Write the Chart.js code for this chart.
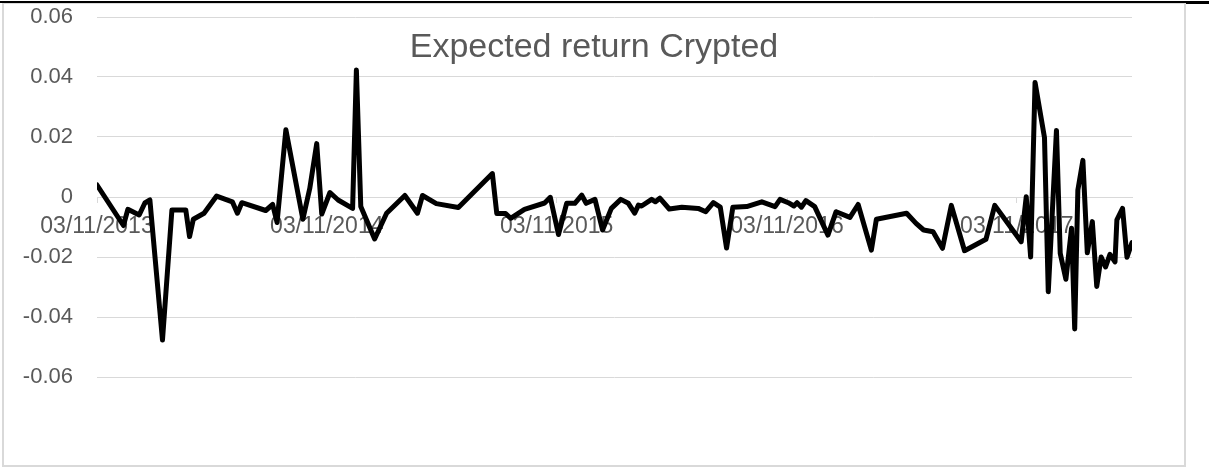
<!DOCTYPE html>
<html>
<head>
<meta charset="utf-8">
<script src="https://cdn.jsdelivr.net/npm/chart.js@4.4.1/dist/chart.umd.min.js"></script>
<style>
  html, body { margin: 0; padding: 0; background: #fff; }
  body { width: 1209px; height: 468px; position: relative; overflow: hidden; }
  #topline { position: absolute; left: 0; top: 1px; width: 1209px; height: 2px; background: #000; }
  #topright { position: absolute; left: 1186px; top: 1px; width: 23px; height: 3px; background: #000; }
  #frame { position: absolute; left: 2px; top: 2px; width: 1184px; height: 465px; box-sizing: border-box; border: 2px solid #d9d9d9; }
  #myChart { position: absolute; left: 0; top: 0; }
</style>
</head>
<body>
<div id="frame"><canvas id="myChart" width="1180" height="461"></canvas></div>
<div id="topline"></div>
<div id="topright"></div>
<script>
// days counted from 03/11/2013
const days = [
  0, 42, 49, 67, 76, 84, 104, 119, 141, 147,
  153, 170, 190, 215, 223, 230, 268, 279, 286, 300,
  327, 338, 349, 357, 370, 383, 406, 412, 419, 441,
  460, 489, 509, 517, 539, 574, 628, 635, 649, 657,
  679, 711, 720, 733, 746, 759, 770, 777, 791, 803,
  817, 832, 844, 854, 860, 865, 881, 887, 894, 909,
  929, 955, 967, 979, 990, 1000, 1010, 1032, 1056, 1077,
  1085, 1098, 1107, 1112, 1119, 1126, 1140, 1161, 1174, 1196,
  1209, 1230, 1238, 1286, 1301, 1313, 1328, 1343, 1357, 1378,
  1412, 1426, 1468, 1476, 1483, 1490, 1505, 1511, 1524, 1530,
  1539, 1548, 1553, 1558, 1566, 1573, 1581, 1588, 1595, 1602,
  1609, 1617, 1620, 1629, 1636, 1644
];

const expectedReturn = [
  0.004, -0.0095, -0.0041, -0.006, -0.002, -0.001, -0.0477, -0.0043, -0.0043, -0.0132,
  -0.0074, -0.0054, 0.0003, -0.0016, -0.0054, -0.0019, -0.0045, -0.0025, -0.0085, 0.0224,
  -0.0074, 0.0029, 0.0178, -0.0057, 0.0015, -0.001, -0.0038, 0.0423, -0.0032, -0.014,
  -0.0054, 0.0005, -0.0054, 0.0005, -0.0022, -0.0035, 0.0078, -0.0055, -0.0055, -0.0071,
  -0.0041, -0.002, -0.0001, -0.0125, -0.0021, -0.0021, 0.0006, -0.0021, -0.0008, -0.011,
  -0.0038, -0.0008, -0.0021, -0.0054, -0.0027, -0.003, -0.0008, -0.0016, -0.0004, -0.004,
  -0.0034, -0.0038, -0.0049, -0.0019, -0.0034, -0.017, -0.0034, -0.0032, -0.0016, -0.0032,
  -0.0008, -0.0019, -0.003, -0.0019, -0.0034, -0.0012, -0.0032, -0.0127, -0.0049, -0.0068,
  -0.0025, -0.0177, -0.0074, -0.0054, -0.0088, -0.011, -0.0116, -0.0171, -0.0028, -0.0179,
  -0.0141, -0.0028, -0.0149, 0.0001, -0.02, 0.0382, 0.0198, -0.0316, 0.0222, -0.0188,
  -0.0274, -0.0104, -0.044, 0.0023, 0.0122, -0.0186, -0.0082, -0.0298, -0.02, -0.0233,
  -0.0191, -0.0216, -0.0076, -0.0038, -0.0201, -0.0152
];

const xTickDays = [0, 365, 730, 1096, 1461];
const xTickLabels = ['03/11/2013', '03/11/2014', '03/11/2015', '03/11/2016', '03/11/2017'];
const yTicks = [-0.06, -0.04, -0.02, 0, 0.02, 0.04, 0.06];

const grey = '#595959';
const gridGrey = '#d9d9d9';
const fontFamily = '"Liberation Sans", Arial, sans-serif';

const ctx = document.getElementById('myChart').getContext('2d');
new Chart(ctx, {
  type: 'line',
  data: {
    datasets: [{
      label: 'Expected return Crypted',
      data: days.map((d, i) => ({ x: d, y: expectedReturn[i] })),
      borderColor: '#000',
      borderWidth: 5,
      borderJoinStyle: 'round',
      borderCapStyle: 'round',
      pointRadius: 0,
      tension: 0,
      fill: false
    }]
  },
  options: {
    responsive: false,
    animation: false,
    layout: { padding: { left: 0, right: 0, top: 0, bottom: 88 } },
    plugins: {
      legend: { display: false },
      tooltip: { enabled: false },
      title: {
        display: true,
        text: 'Expected return Crypted',
        color: grey,
        font: { family: fontFamily, size: 34, weight: 'normal', lineHeight: 1 },
        padding: { top: 26.5, bottom: -47.5 }
      }
    },
    scales: {
      x: {
        type: 'linear',
        position: { y: 0 },
        min: 0,
        max: 1644,
        z: 1,
        afterFit: s => { s.height = 0; },
        afterBuildTicks: s => { s.ticks = xTickDays.map(v => ({ value: v })); },
        grid: { display: true, drawOnChartArea: false, drawTicks: true, tickLength: 5, color: gridGrey },
        border: { display: true, color: gridGrey, width: 1 },
        ticks: {
          autoSkip: false,
          maxRotation: 0,
          minRotation: 0,
          padding: 11,
          color: grey,
          font: { family: fontFamily, size: 23 },
          callback: (v, i) => xTickLabels[i]
        }
      },
      y: {
        min: -0.06,
        max: 0.06,
        afterFit: s => { s.width = 93; s.paddingTop = 0; s.paddingBottom = 0; },
        afterBuildTicks: s => { s.ticks = yTicks.map(v => ({ value: v })); },
        grid: { color: gridGrey, lineWidth: 1, drawTicks: false },
        border: { display: false },
        ticks: {
          padding: 24,
          color: grey,
          font: { family: fontFamily, size: 22 },
          callback: v => String(+v.toFixed(2))
        }
      },
      y2: {
        position: 'right',
        afterFit: s => { s.width = 52; s.paddingTop = 0; s.paddingBottom = 0; },
        grid: { display: false },
        border: { display: false },
        ticks: { display: false }
      }
    }
  }
});
</script>
</body>
</html>
